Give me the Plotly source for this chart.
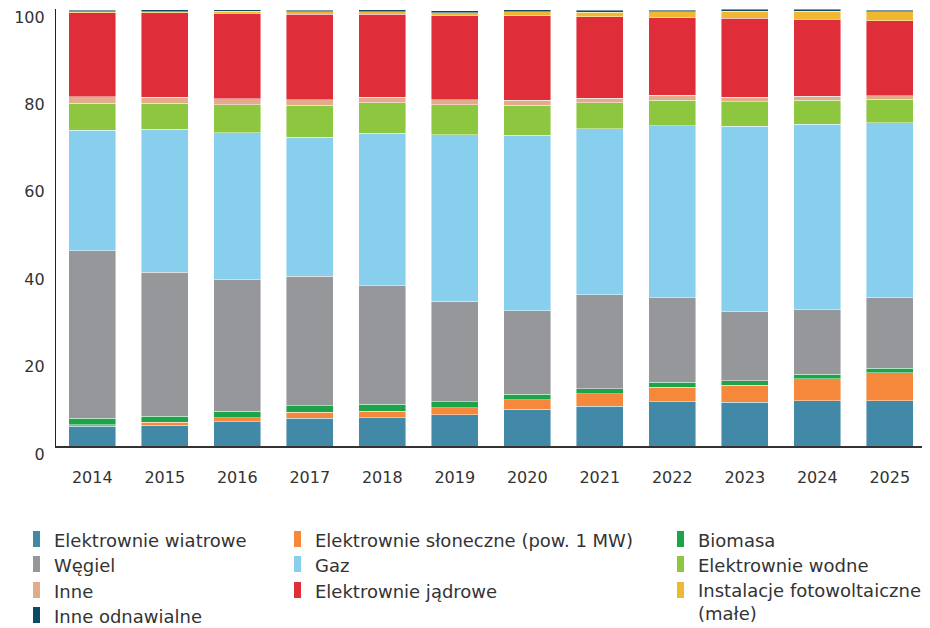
import plotly.graph_objects as go

years = ["2014", "2015", "2016", "2017", "2018", "2019", "2020", "2021", "2022", "2023", "2024", "2025"]

wiatrowe = [4.5, 4.8, 5.6, 6.4, 6.5, 7.1, 8.4, 9.1, 10.1, 10.0, 10.3, 10.3]
sloneczne = [0.4, 0.6, 0.9, 1.3, 1.5, 1.6, 2.2, 2.9, 3.4, 3.9, 5.1, 6.5]
biomasa = [1.4, 1.4, 1.4, 1.5, 1.5, 1.4, 1.3, 1.1, 1.05, 1.0, 1.0, 1.0]
wegiel = [38.4, 33.0, 30.2, 29.7, 27.2, 23.0, 19.1, 21.5, 19.4, 15.8, 14.8, 16.2]
gaz = [27.5, 32.7, 33.6, 31.8, 34.9, 38.1, 40.1, 38.0, 39.3, 42.5, 42.4, 40.0]
wodne = [6.2, 5.9, 6.4, 7.3, 6.9, 6.9, 6.9, 5.9, 5.9, 5.6, 5.5, 5.3]
inne = [1.5, 1.4, 1.4, 1.2, 1.3, 1.1, 1.1, 1.1, 1.1, 1.0, 0.9, 0.85]
jadrowe = [19.3, 19.3, 19.5, 19.6, 19.0, 19.2, 19.4, 18.6, 17.8, 18.1, 17.6, 17.2]
fotowoltaiczne = [0.15, 0.25, 0.45, 0.55, 0.6, 0.75, 0.9, 1.1, 1.3, 1.6, 1.9, 2.0]
inne_odnawialne = [0.4, 0.5, 0.4, 0.4, 0.4, 0.4, 0.4, 0.4, 0.4, 0.4, 0.4, 0.4]

series_names = [
    "Elektrownie wiatrowe", "Elektrownie słoneczne (pow. 1 MW)", "Biomasa",
    "Węgiel", "Gaz", "Elektrownie wodne",
    "Inne", "Elektrownie jądrowe", "Instalacje fotowoltaiczne<br>(małe)",
    "Inne odnawialne",
]
series_values = [wiatrowe, sloneczne, biomasa, wegiel, gaz, wodne, inne, jadrowe,
                 fotowoltaiczne, inne_odnawialne]
colors = ["#4289A8", "#F5883A", "#1DA34A", "#96979B", "#87CFEC", "#8DC63F",
          "#E2AC8C", "#DF2E3A", "#F0B830", "#0E4A64"]

y_ticks = [0, 20, 40, 60, 80, 100]

FONT = "DejaVu Sans"
TXT = "#333333"

# page is rendered with an 8px body margin; work in page pixels and convert
OFF = 8
FIG_W, FIG_H = 930 - OFF, 628 - OFF

fig = go.Figure()
for name, vals, col in zip(series_names, series_values, colors):
    fig.add_trace(go.Bar(
        x=years, y=vals, name=name.replace("<br>", " "),
        marker=dict(color=col, line=dict(color="rgba(255,255,255,0.55)", width=0.8)),
        showlegend=False,
    ))

TOP, BOTTOM = 9, 446      # page pixels of plot area
W_L, W_R = 56, 926
H = BOTTOM - TOP


def py(p):
    return (BOTTOM - p) / H


def px(p):
    return (p - W_L) / (W_R - W_L)


col_x = [33, 294, 677]
row_y = [539, 564, 590, 615]
shapes = []
annotations = []
for i, (name, col) in enumerate(zip(series_names, colors)):
    r, c = divmod(i, 3)
    x0 = col_x[c]
    yc = row_y[r]
    shapes.append(dict(type="rect", xref="paper", yref="paper",
                       x0=px(x0), x1=px(x0 + 7), y0=py(yc + 8), y1=py(yc - 8),
                       fillcolor=col, line=dict(width=0)))
    if "<br>" in name:
        annotations.append(dict(xref="paper", yref="paper", x=px(x0 + 19), y=py(yc - 12),
                                text=name, showarrow=False, xanchor="left", yanchor="top",
                                align="left", font=dict(family=FONT, size=18, color=TXT)))
    else:
        annotations.append(dict(xref="paper", yref="paper", x=px(x0 + 19), y=py(yc + 1),
                                text=name, showarrow=False, xanchor="left", yanchor="middle",
                                align="left", font=dict(family=FONT, size=18, color=TXT)))

fig.update_layout(
    barmode="stack",
    bargap=0.35,
    width=FIG_W, height=FIG_H,
    margin=dict(l=W_L - OFF, r=930 - W_R, t=TOP - OFF, b=628 - BOTTOM),
    paper_bgcolor="white", plot_bgcolor="white",
    font=dict(family=FONT, size=16, color=TXT),
    shapes=shapes,
    annotations=annotations,
    xaxis=dict(
        type="category", showgrid=False, zeroline=False,
        showline=True, linecolor="#333333", linewidth=1.5,
        ticks="", ticklabelstandoff=16,
        tickfont=dict(family=FONT, size=16, color=TXT),
    ),
    yaxis=dict(
        range=[0, 100], tickvals=y_ticks, showgrid=False, zeroline=False,
        showline=True, linecolor="#222222", linewidth=1.2,
        ticks="", ticklabelstandoff=7, ticklabelshift=8, ticklabeloverflow="allow",
        tickfont=dict(family=FONT, size=16, color=TXT),
    ),
)

fig.write_html("out.html")
